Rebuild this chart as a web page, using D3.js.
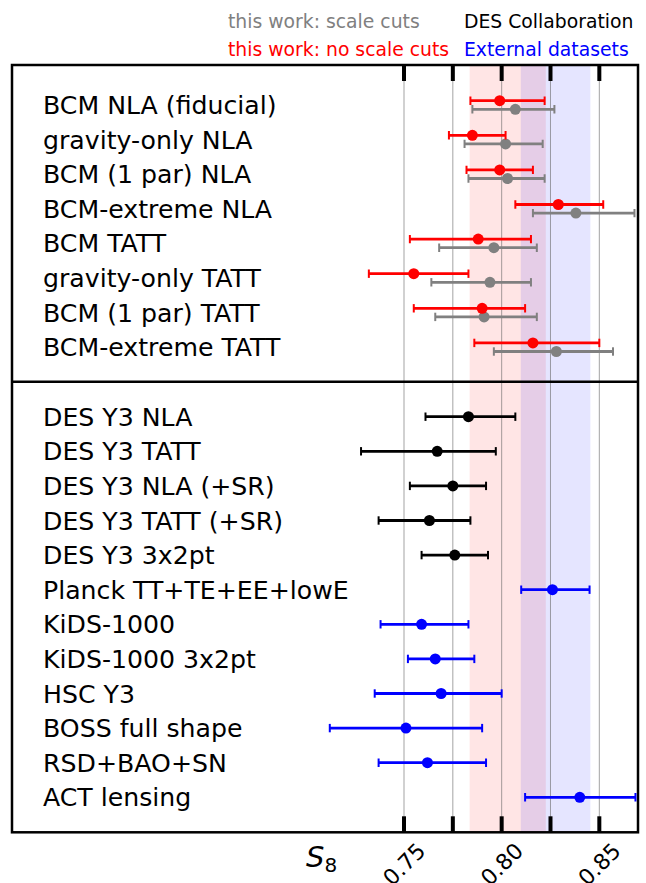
<!DOCTYPE html>
<html><head><meta charset="utf-8">
<script src="https://cdn.jsdelivr.net/npm/d3@7"></script>
<style>body{margin:0;background:#fff}svg{display:block}</style>
</head><body>
<script>
// ---- data ----
const topLabels = ["BCM NLA (fiducial)","gravity-only NLA","BCM (1 par) NLA","BCM-extreme NLA","BCM TATT","gravity-only TATT","BCM (1 par) TATT","BCM-extreme TATT"];
const noCutsMean = [0.799,0.785,0.799,0.829,0.788,0.755,0.790,0.816];
const noCutsLo   = [0.784,0.773,0.782,0.807,0.753,0.732,0.755,0.786];
const noCutsHi   = [0.822,0.802,0.816,0.852,0.815,0.783,0.812,0.850];
const cutsMean = [0.807,0.802,0.803,0.838,0.796,0.794,0.791,0.828];
const cutsLo   = [0.785,0.781,0.783,0.816,0.768,0.764,0.766,0.796];
const cutsHi   = [0.827,0.821,0.822,0.868,0.818,0.815,0.818,0.857];

const botLabels = ["DES Y3 NLA","DES Y3 TATT","DES Y3 NLA (+SR)","DES Y3 TATT (+SR)","DES Y3 3x2pt","Planck TT+TE+EE+lowE","KiDS-1000","KiDS-1000 3x2pt","HSC Y3","BOSS full shape","RSD+BAO+SN","ACT lensing"];
const botGroup = ["DES","DES","DES","DES","DES","ext","ext","ext","ext","ext","ext","ext"];
const botMean = [0.783,0.767,0.775,0.763,0.776,0.826,0.759,0.766,0.769,0.751,0.762,0.840];
const botLo   = [0.761,0.728,0.753,0.737,0.759,0.810,0.738,0.752,0.735,0.712,0.737,0.812];
const botHi   = [0.807,0.797,0.792,0.784,0.793,0.845,0.783,0.786,0.800,0.790,0.792,0.8685];

const bandFiducial = [0.7836, 0.8226];
const bandPlanck = [0.8098, 0.8454];
const tickValues = [0.75, 0.775, 0.80, 0.825, 0.85];
const tickLabels = ["0.75","","0.80","","0.85"];
const xDomain = [0.5493, 0.8698];

// ---- layout ----
const W = 646, H = 883;
const L = 12, R = 638, T = 65, MID = 381.7, B = 832.3;
const FONT = "DejaVu Sans, sans-serif";
const svg = d3.select("body").append("svg").attr("width", W).attr("height", H);

const x = d3.scaleLinear().domain(xDomain).range([L, R]);
const yTop = d3.scalePoint().domain(topLabels).range([105, 347.2]);
const yBot = d3.scalePoint().domain(botLabels).range([416.7, 797.3]);
const colors = {noCuts:"#ff0000", cuts:"#808080", DES:"#000000", ext:"#0000ff"};

// bands
[[bandFiducial,"rgba(255,0,0,0.1)"],[bandPlanck,"rgba(0,0,255,0.1)"]].forEach(([b,c])=>{
  svg.append("rect").attr("x", x(b[0])).attr("y", T).attr("width", x(b[1])-x(b[0])).attr("height", B-T).attr("fill", c);
});

// grid lines
svg.append("g").selectAll("line").data(tickValues).join("line")
  .attr("x1", d=>x(d)).attr("x2", d=>x(d)).attr("y1", T).attr("y2", B)
  .attr("stroke","#666").attr("stroke-width",0.6);

// ticks (inward, at top of upper panel and bottom of lower panel)
const g = svg.append("g");
g.selectAll("line.tt").data(tickValues).join("line").attr("class","tt")
  .attr("x1", d=>x(d)).attr("x2", d=>x(d)).attr("y1", T).attr("y2", T+16)
  .attr("stroke","#000").attr("stroke-width",4);
g.selectAll("line.bt").data(tickValues).join("line").attr("class","bt")
  .attr("x1", d=>x(d)).attr("x2", d=>x(d)).attr("y1", B-16).attr("y2", B)
  .attr("stroke","#000").attr("stroke-width",4);

// frames
svg.append("rect").attr("x",L).attr("y",T).attr("width",R-L).attr("height",B-T)
  .attr("fill","none").attr("stroke","#000").attr("stroke-width",2.5);
svg.append("line").attr("x1",L).attr("x2",R).attr("y1",MID).attr("y2",MID)
  .attr("stroke","#000").attr("stroke-width",2.5);

function errbar(parent, xm, xl, xh, y, col, r){
  const gg = parent.append("g");
  gg.append("line").attr("x1",x(xl)).attr("x2",x(xh)).attr("y1",y).attr("y2",y).attr("stroke",col).attr("stroke-width",2.8);
  [xl,xh].forEach(v=>gg.append("line").attr("x1",x(v)).attr("x2",x(v)).attr("y1",y-4.2).attr("y2",y+4.2).attr("stroke",col).attr("stroke-width",2));
  gg.append("circle").attr("cx",x(xm)).attr("cy",y).attr("r",r).attr("fill",col);
}

const clip = svg.append("defs").append("clipPath").attr("id","c").append("rect")
  .attr("x",L).attr("y",T).attr("width",R-L).attr("height",B-T);
const marks = svg.append("g").attr("clip-path","url(#c)");
topLabels.forEach((lab,i)=>{
  errbar(marks, cutsMean[i], cutsLo[i], cutsHi[i], yTop(lab)+4.3, colors.cuts, 5.5);
  errbar(marks, noCutsMean[i], noCutsLo[i], noCutsHi[i], yTop(lab)-4.3, colors.noCuts, 5.5);
});
botLabels.forEach((lab,i)=>{
  errbar(marks, botMean[i], botLo[i], botHi[i], yBot(lab), colors[botGroup[i]], 5.5);
});

// labels
const FS = 25.2;
svg.append("g").selectAll("text").data(topLabels).join("text")
  .attr("x",43).attr("y",d=>yTop(d)).attr("dy","0.36em")
  .attr("font-family",FONT).attr("font-size",FS).attr("fill","#000").text(d=>d);
svg.append("g").selectAll("text").data(botLabels).join("text")
  .attr("x",43).attr("y",d=>yBot(d)).attr("dy","0.36em")
  .attr("font-family",FONT).attr("font-size",FS).attr("fill","#000").text(d=>d);

// legend
const legend = [
  {t:"this work: scale cuts", c:colors.cuts, x:228, y:21},
  {t:"DES Collaboration", c:"#000", x:464, y:21},
  {t:"this work: no scale cuts", c:colors.noCuts, x:228, y:49},
  {t:"External datasets", c:colors.ext, x:464, y:49}
];
svg.append("g").selectAll("text").data(legend).join("text")
  .attr("x",d=>d.x).attr("y",d=>d.y).attr("dy","0.36em")
  .attr("font-family",FONT).attr("font-size",18.8).attr("fill",d=>d.c).text(d=>d.t);

// x tick labels (rotated)
svg.append("g").selectAll("text").data(tickValues.map((v,i)=>({v,l:tickLabels[i]})).filter(d=>d.l)).join("text")
  .attr("transform",d=>`translate(${x(d.v)},${864}) rotate(-45)`)
  .attr("text-anchor","middle").attr("dy","0.36em")
  .attr("font-family",FONT).attr("font-size",22).attr("fill","#000").text(d=>d.l);

// axis label S_8
const ax = svg.append("text").attr("x",306).attr("y",867)
  .attr("font-family",FONT).attr("font-size",29).attr("fill","#000");
ax.append("tspan").attr("font-style","italic").text("S");
ax.append("tspan").attr("font-size",20).attr("dy",5).text("8");
</script>
</body></html>
